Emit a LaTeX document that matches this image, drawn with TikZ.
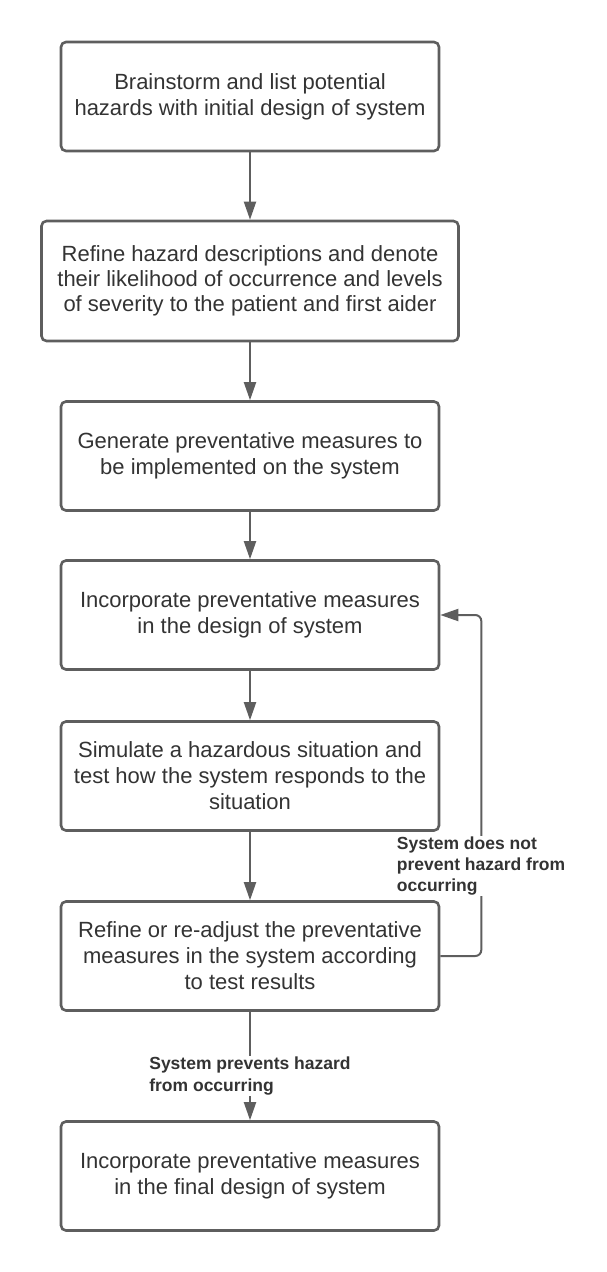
\documentclass[tikz,border=0pt]{standalone}
\usepackage{fontspec}
\setmainfont{Liberation Sans}
\usetikzlibrary{arrows.meta}
\definecolor{boxgray}{HTML}{5E5E5E}
\definecolor{txtgray}{HTML}{333333}

\begin{document}
\begin{tikzpicture}[x=1pt,y=-1pt,
  stepbox/.style={draw=boxgray,line width=2.6pt,rounded corners=5pt,minimum width=378pt,minimum height=109pt,align=center,text=txtgray,font=\fontsize{22}{26}\selectfont,inner sep=0pt},
  flow/.style={draw=boxgray,line width=2pt,-{Triangle[length=18pt,width=12pt]}},
  note/.style={fill=white,align=left,text=txtgray,font=\fontsize{17.5}{21}\bfseries\selectfont,inner sep=1pt}]

\useasboundingbox (0,0) rectangle (607,1272);

\node[stepbox] (brain) at (250,96.5) {Brainstorm and list potential\\hazards with initial design of system};
\node[stepbox,minimum width=417pt,minimum height=120pt,font=\fontsize{22}{25}\selectfont] (refine) at (250,281) {Refine hazard descriptions and denote\\their likelihood of occurrence and levels\\of severity to the patient and first aider};
\node[stepbox] (prevent) at (250,456) {Generate preventative measures to\\be implemented on the system};
\node[stepbox] (incorp) at (250,615) {Incorporate preventative measures\\in the design of system};
\node[stepbox] (simul) at (250,776) {Simulate a hazardous situation and\\test how the system responds to the\\situation};
\node[stepbox] (adjust) at (250,956) {Refine or re-adjust the preventative\\measures in the system according\\to test results};
\node[stepbox] (final) at (250,1176) {Incorporate preventative measures\\in the final design of system};

\draw[flow] (brain) -- (refine);
\draw[flow] (refine) -- (prevent);
\draw[flow] (prevent) -- (incorp);
\draw[flow] (incorp) -- (simul);
\draw[flow] (simul) -- (adjust);
\draw[flow] (adjust) -- (final);
\draw[flow,rounded corners=6pt] (adjust.east) -- ++(41,0) |- (incorp.east);

\node[note] (nohalt) at (481,866) {System does not\\prevent hazard from\\occurring};
\node[note] (halt) at (250,1076) {System prevents hazard\\from occurring};

\end{tikzpicture}
\end{document}
